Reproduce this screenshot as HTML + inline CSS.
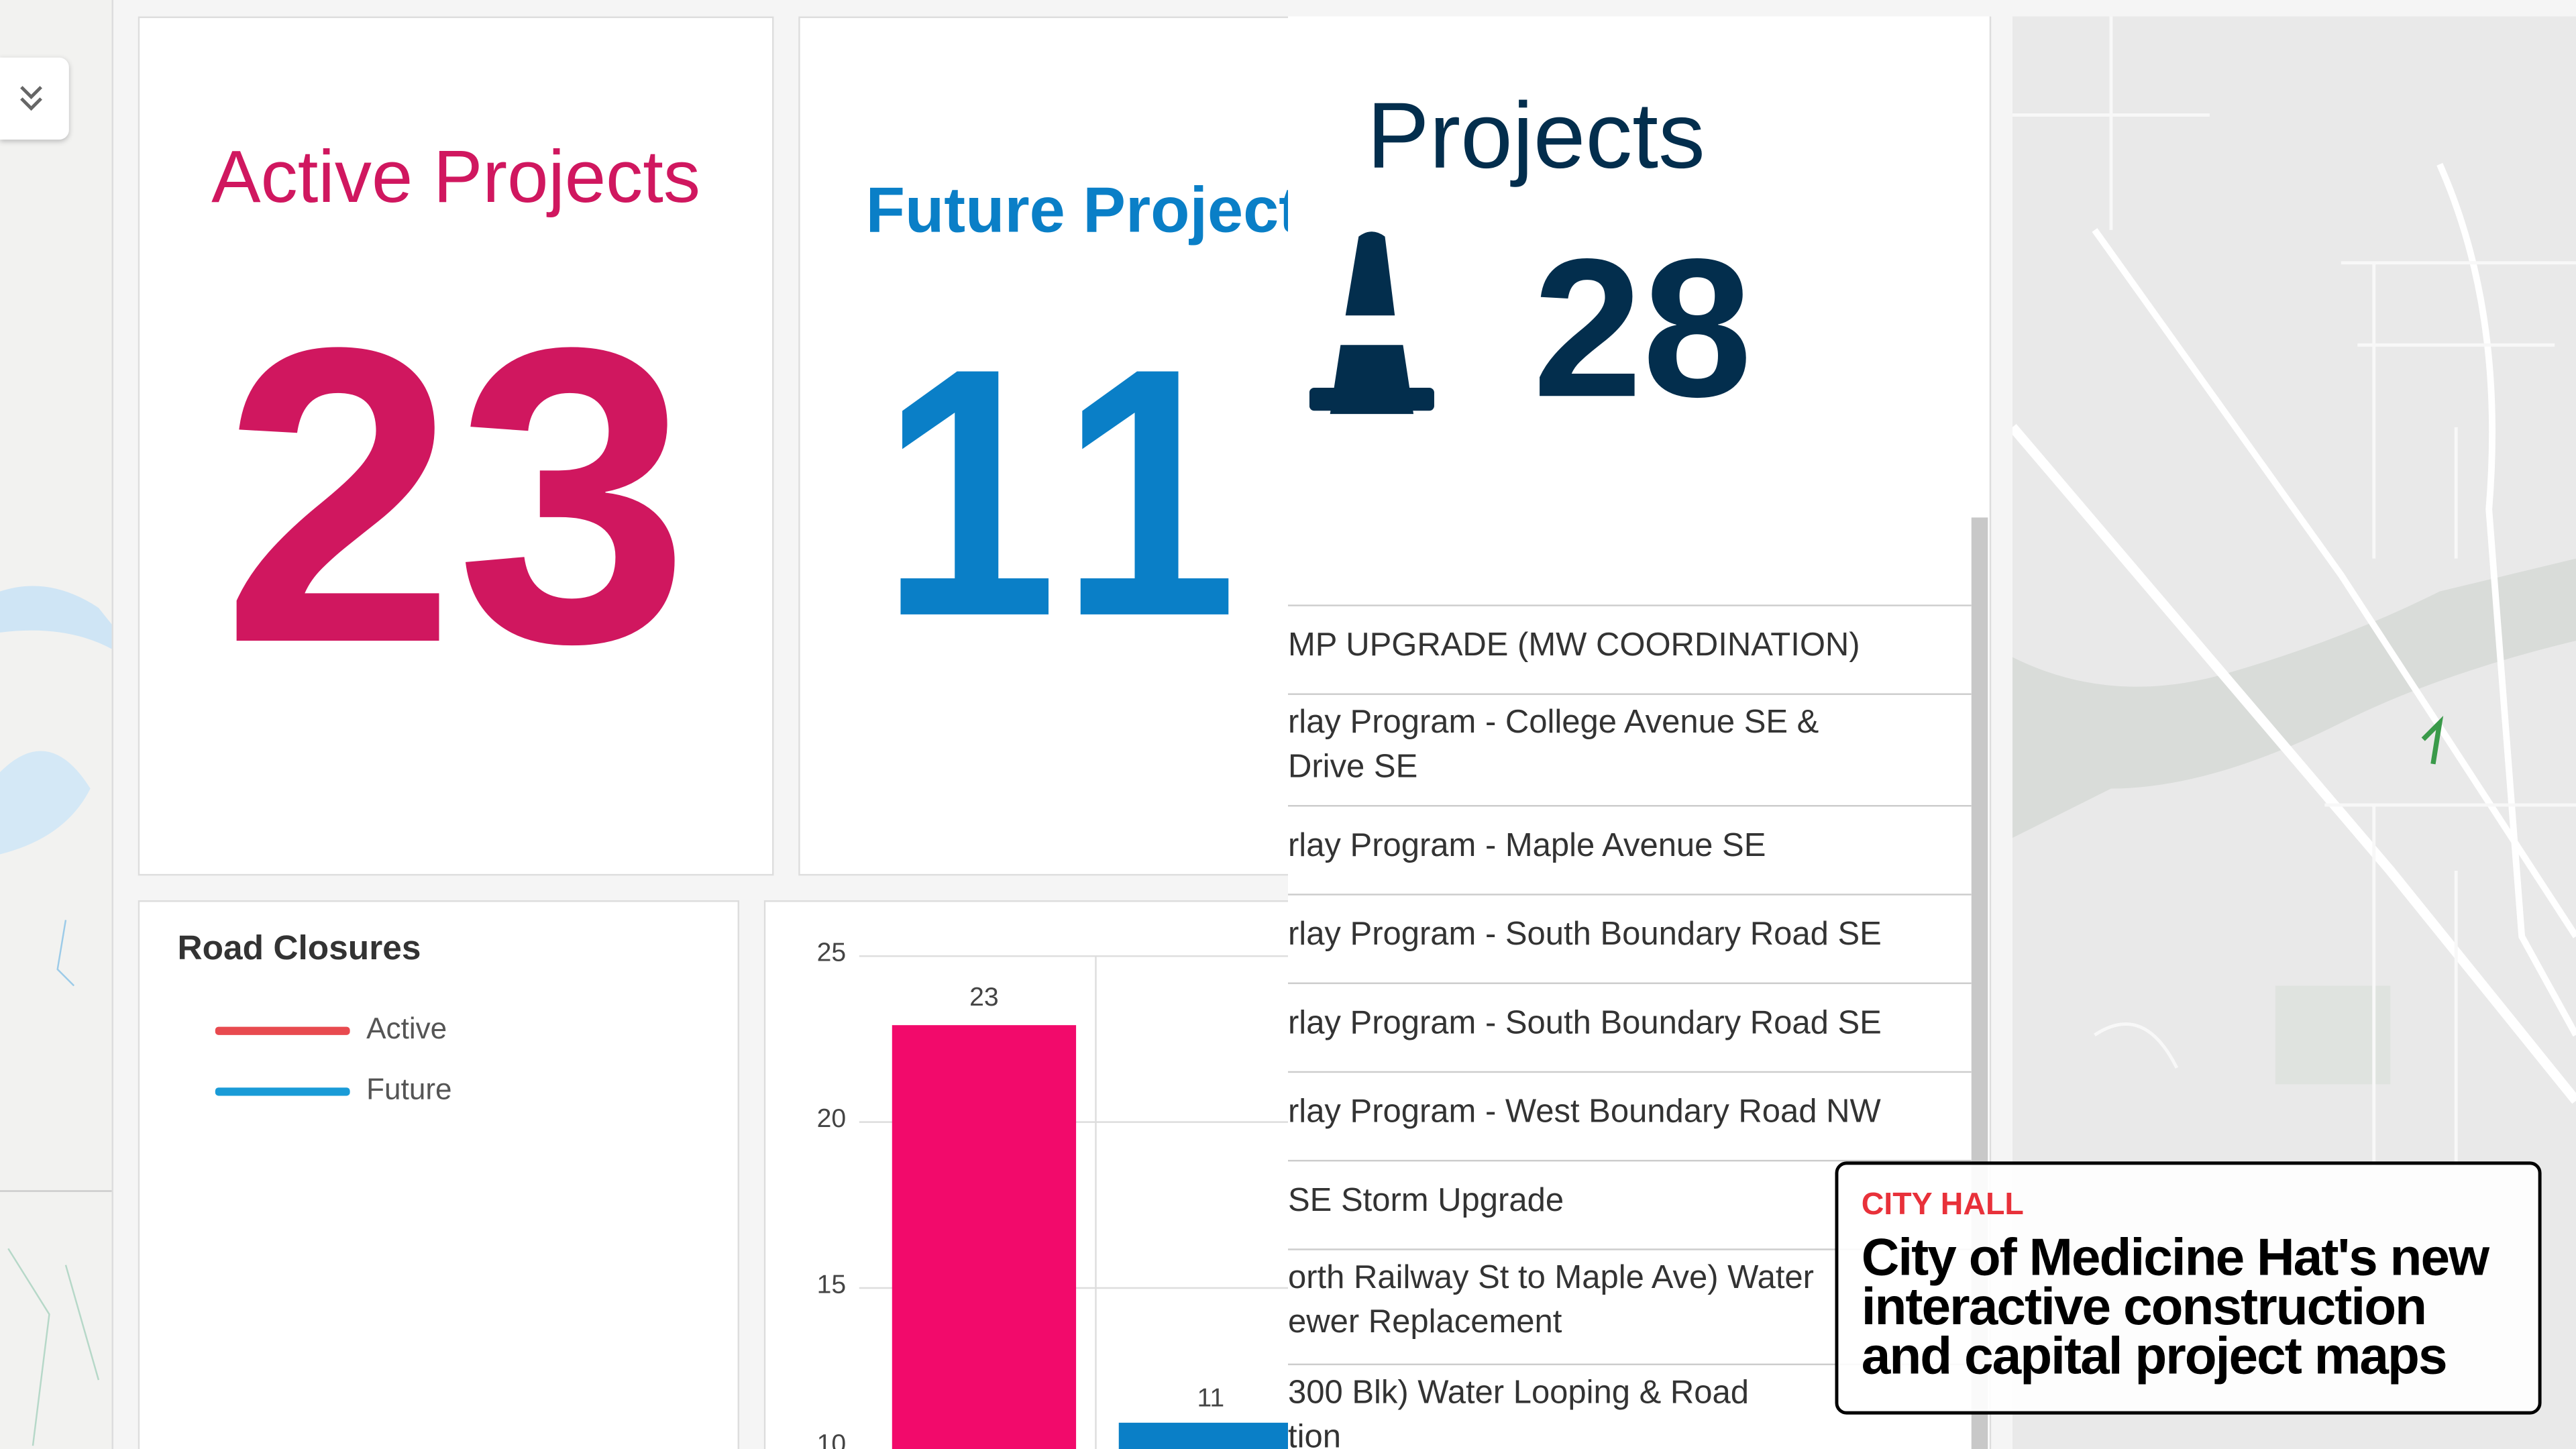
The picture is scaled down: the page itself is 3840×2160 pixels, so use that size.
<!DOCTYPE html>
<html><head><meta charset="utf-8"><style>
html,body{margin:0;padding:0;width:3840px;height:2160px;overflow:hidden;background:#f5f5f5}
#s{position:absolute;left:0;top:0;width:1568px;height:882px;transform:scale(2.44898);transform-origin:0 0;font-family:"Liberation Sans",sans-serif;overflow:hidden;background:#f5f5f5}
.a{position:absolute}
.card{position:absolute;background:#fff;border:1px solid #ddd;box-sizing:border-box}
.row{position:absolute;left:784px;width:416px;border-top:1px solid #ccc;font-size:20px;color:#333;line-height:27px}
</style></head><body><div id="s">
<div class="a" style="left:0;top:0;width:68px;height:882px;background:#f2f2f0;border-right:1px solid #ddd"></div>
<svg class="a" style="left:0;top:0" width="68" height="882"><path d="M0 360 Q30 350 60 370 L68 380 L68 395 Q40 380 0 385Z" fill="#cfe5f5"/><path d="M0 470 Q30 440 55 480 Q40 510 0 520Z" fill="#d4e8f6"/><path d="M40 560 L35 590 L45 600" stroke="#9ccbe8" fill="none"/><path d="M5 760 L30 800 L20 880 M40 770 L60 840" stroke="#b6d8c8" fill="none"/><line x1="0" y1="725" x2="68" y2="725" stroke="#ccc"/></svg>
<div class="a" style="left:0;top:35px;width:42px;height:50px;background:#fff;border-radius:0 6px 6px 0;box-shadow:0 1px 3px #bbb"></div>
<svg class="a" style="left:10px;top:50px" width="18" height="20"><path d="M3 3 L9 9 L15 3 M3 10 L9 16 L15 10" stroke="#666" stroke-width="2" fill="none"/></svg>
<div class="a" style="left:1225px;top:10px;width:343px;height:872px;background:#e9e9e9"></div>
<svg class="a" style="left:1225px;top:10px" width="343" height="872">
<path d="M0 390 Q60 420 130 400 Q200 380 260 350 L343 330 L343 380 Q260 400 200 430 Q120 470 60 470 L0 500Z" fill="#d9dcd9"/>
<rect x="160" y="590" width="70" height="60" fill="#dfe3df"/>
<path d="M0 250 L230 520 L343 660" stroke="#fff" stroke-width="6" fill="none"/>
<path d="M50 130 L200 340 L343 560" stroke="#fff" stroke-width="4" fill="none"/>
<path d="M260 90 Q300 180 290 300 L310 560 L343 620" stroke="#fff" stroke-width="4" fill="none"/>
<path d="M250 440 L260 430 L256 455" stroke="#3a9a4a" stroke-width="3" fill="none"/>
<g stroke="#f8f8f8" stroke-width="2" fill="none"><path d="M0 60 H120 M60 0 V130 M200 150 H343 M210 200 H330 M220 150 V330 M270 250 V330 M190 480 H343 M220 480 V700 M270 520 V700 M50 620 Q80 600 100 640"/></g>
</svg>
<div class="card" style="left:84px;top:10px;width:387px;height:523px"></div>
<div class="a" style="left:84px;top:82px;width:387px;text-align:center;font-size:45px;color:#d0175f">Active Projects</div>
<div class="a" style="left:84px;top:172px;width:387px;text-align:center;font-size:256px;font-weight:bold;color:#d0175f;line-height:260px">23</div>
<div class="card" style="left:486px;top:10px;width:726px;height:523px"></div>
<div class="a" style="left:527px;top:107px;font-size:39px;font-weight:bold;color:#0a7fc7;white-space:nowrap">Future Projects</div>
<div class="a" style="left:536px;top:190px;font-size:215px;font-weight:bold;color:#0a7fc7;line-height:220px;letter-spacing:14px;transform:scaleX(0.9);transform-origin:0 0">11</div>
<div class="card" style="left:84px;top:548px;width:366px;height:340px"></div>
<div class="a" style="left:108px;top:566px;font-size:21px;font-weight:bold;color:#333">Road Closures</div>
<div class="a" style="left:131px;top:625px;width:82px;height:5px;background:#e84a4f;border-radius:2px"></div>
<div class="a" style="left:223px;top:616px;font-size:18px;color:#555">Active</div>
<div class="a" style="left:131px;top:662px;width:82px;height:5px;background:#1a9bd7;border-radius:2px"></div>
<div class="a" style="left:223px;top:653px;font-size:18px;color:#555">Future</div>
<div class="card" style="left:465px;top:548px;width:330px;height:340px"></div>
<svg class="a" style="left:465px;top:548px" width="330" height="334" font-family="Liberation Sans" font-size="16" fill="#444">
<line x1="58" y1="34" x2="330" y2="34" stroke="#ddd"/><line x1="58" y1="135" x2="330" y2="135" stroke="#ddd"/><line x1="58" y1="236" x2="330" y2="236" stroke="#ddd"/>
<line x1="202" y1="34" x2="202" y2="334" stroke="#ddd"/>
<text x="50" y="37" text-anchor="end">25</text><text x="50" y="138" text-anchor="end">20</text><text x="50" y="239" text-anchor="end">15</text><text x="50" y="336" text-anchor="end">10</text>
<rect x="78" y="76" width="112" height="260" fill="#f20a6b"/>
<text x="134" y="64" text-anchor="middle">23</text>
<rect x="216" y="318" width="110" height="20" fill="#0a7fc7"/>
<text x="272" y="308" text-anchor="middle">11</text>
</svg>
<div class="a" style="left:784px;top:10px;width:427px;height:872px;background:#fff;border-right:1px solid #ddd"></div>
<div class="a" style="left:832px;top:50px;font-size:57px;color:#032e4d">Projects</div>
<svg class="a" style="left:797px;top:140px" width="78" height="112"><path d="M30 4 Q38 -2 46 4 L52 52 L22 52Z M19 70 L57 70 L64 116 L12 116Z" fill="#032e4d"/><rect x="0" y="96" width="76" height="14" rx="3" fill="#032e4d"/></svg>
<div class="a" style="left:933px;top:140px;font-size:120px;font-weight:bold;color:#032e4d;line-height:120px">28</div>
<div class="a" style="left:1200px;top:315px;width:10px;height:567px;background:#c8c8c8"></div>
<div class="a" style="left:784px;top:368px;width:416px;height:514px;overflow:hidden">
<div class="row" style="left:0;top:0;height:54px;padding-top:11px;box-sizing:border-box">MP UPGRADE (MW COORDINATION)</div>
<div class="row" style="left:0;top:54px;height:68px;padding-top:4px;box-sizing:border-box">rlay Program - College Avenue SE &amp;<br>Drive SE</div>
<div class="row" style="left:0;top:122px;height:54px;padding-top:11px;box-sizing:border-box">rlay Program - Maple Avenue SE</div>
<div class="row" style="left:0;top:176px;height:54px;padding-top:11px;box-sizing:border-box">rlay Program - South Boundary Road SE</div>
<div class="row" style="left:0;top:230px;height:54px;padding-top:11px;box-sizing:border-box">rlay Program - South Boundary Road SE</div>
<div class="row" style="left:0;top:284px;height:54px;padding-top:11px;box-sizing:border-box">rlay Program - West Boundary Road NW</div>
<div class="row" style="left:0;top:338px;height:54px;padding-top:11px;box-sizing:border-box">SE Storm Upgrade</div>
<div class="row" style="left:0;top:392px;height:70px;padding-top:4px;box-sizing:border-box">orth Railway St to Maple Ave) Water<br>ewer Replacement</div>
<div class="row" style="left:0;top:462px;height:70px;padding-top:4px;box-sizing:border-box">300 Blk) Water Looping &amp; Road<br>tion</div>
</div>
<div class="a" style="left:1117px;top:707px;width:430px;height:154px;background:rgba(255,255,255,0.9);border:2px solid #000;border-radius:7px;box-sizing:border-box"></div>
<div class="a" style="left:1133px;top:723px;font-size:19px;font-weight:bold;color:#e8313a">CITY HALL</div>
<div class="a" style="left:1133px;top:750px;font-size:32px;font-weight:bold;color:#000;line-height:30px;letter-spacing:-0.8px;white-space:nowrap">City of Medicine Hat's new<br>interactive construction<br>and capital project maps</div>
</div></body></html>
